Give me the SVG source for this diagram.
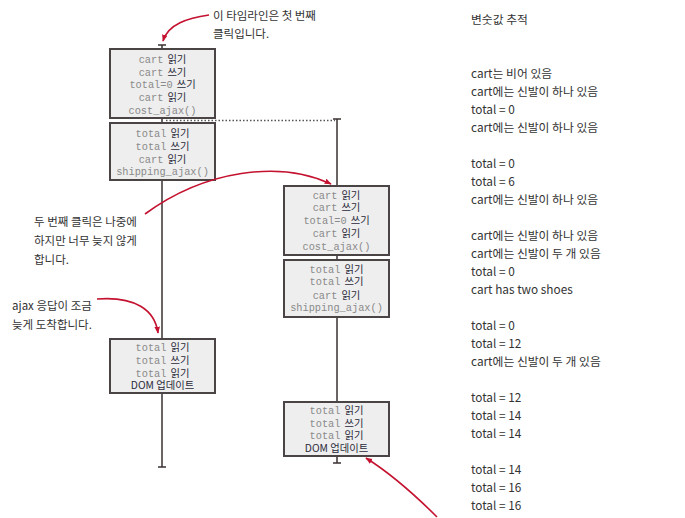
<svg xmlns="http://www.w3.org/2000/svg" width="685" height="518" viewBox="0 0 685 518">
<defs>
<marker id="ah" viewBox="0 0 10 10" refX="9" refY="5" markerWidth="7" markerHeight="7" orient="auto-start-reverse" markerUnits="userSpaceOnUse">
<path d="M0,1 L10,5 L0,9 Z" fill="#c41230"/>
</marker>
<style>
.box{fill:#eeeeee;stroke:#4a4444;stroke-width:2}
.tl{stroke:#3a3030;stroke-width:1.5;fill:none}
.code{font-family:"Liberation Mono","DejaVu Sans Mono",monospace;font-size:10.3px;fill:#8a8a8a}
.ko{font-family:"Noto Sans CJK KR","Noto Sans",sans-serif;font-size:10.3px;fill:#2a2a3a}
.bt{text-anchor:middle}
.note{font-family:"Noto Sans CJK KR","Noto Sans",sans-serif;font-size:11.5px;fill:#333}
.arr{stroke:#c41230;stroke-width:1.6;fill:none;marker-end:url(#ah)}
.trace{font-family:"Noto Sans CJK KR","Noto Sans",sans-serif;font-size:11.8px;fill:#333}
</style>
</defs>
<rect width="685" height="518" fill="#ffffff"/>
<g id="timelines">
<line class="tl" x1="162" y1="45" x2="162" y2="467"/>
<line class="tl" x1="158" y1="45" x2="166" y2="45"/>
<line class="tl" x1="158" y1="467" x2="166" y2="467"/>
<line x1="166" y1="120.5" x2="335" y2="120.5" stroke="#555" stroke-width="1.5" stroke-dasharray="1.5,2"/>
<line class="tl" x1="337" y1="119" x2="337" y2="463"/>
<line class="tl" x1="333" y1="119" x2="341" y2="119"/>
<line class="tl" x1="333" y1="463" x2="341" y2="463"/>
</g>
<g id="box1">
<rect class="box" x="110" y="49" width="105" height="69"/>
<text class="bt" x="162.5" y="63"><tspan class="code">cart</tspan><tspan class="ko" dx="4">읽기</tspan></text>
<text class="bt" x="162.5" y="76"><tspan class="code">cart</tspan><tspan class="ko" dx="4">쓰기</tspan></text>
<text class="bt" x="162.5" y="88"><tspan class="code">total=0</tspan><tspan class="ko" dx="4">쓰기</tspan></text>
<text class="bt" x="162.5" y="101"><tspan class="code">cart</tspan><tspan class="ko" dx="4">읽기</tspan></text>
<text class="bt code" x="162.5" y="114">cost_ajax()</text>
</g>
<g id="box2">
<rect class="box" x="110" y="123" width="105" height="57"/>
<text class="bt" x="162.5" y="137"><tspan class="code">total</tspan><tspan class="ko" dx="4">읽기</tspan></text>
<text class="bt" x="162.5" y="150"><tspan class="code">total</tspan><tspan class="ko" dx="4">쓰기</tspan></text>
<text class="bt" x="162.5" y="163"><tspan class="code">cart</tspan><tspan class="ko" dx="4">읽기</tspan></text>
<text class="bt code" x="162.5" y="175">shipping_ajax()</text>
</g>
<g id="box3">
<rect class="box" x="110" y="339" width="105" height="54"/>
<text class="bt" x="162.5" y="351"><tspan class="code">total</tspan><tspan class="ko" dx="4">읽기</tspan></text>
<text class="bt" x="162.5" y="364"><tspan class="code">total</tspan><tspan class="ko" dx="4">쓰기</tspan></text>
<text class="bt" x="162.5" y="377"><tspan class="code">total</tspan><tspan class="ko" dx="4">읽기</tspan></text>
<text class="bt ko" x="162.5" y="389" fill="#222">DOM 업데이트</text>
</g>
<g id="box4">
<rect class="box" x="284" y="186" width="105" height="69"/>
<text class="bt" x="336.5" y="199"><tspan class="code">cart</tspan><tspan class="ko" dx="4">읽기</tspan></text>
<text class="bt" x="336.5" y="211"><tspan class="code">cart</tspan><tspan class="ko" dx="4">쓰기</tspan></text>
<text class="bt" x="336.5" y="224"><tspan class="code">total=0</tspan><tspan class="ko" dx="4">쓰기</tspan></text>
<text class="bt" x="336.5" y="237"><tspan class="code">cart</tspan><tspan class="ko" dx="4">읽기</tspan></text>
<text class="bt code" x="336.5" y="250">cost_ajax()</text>
</g>
<g id="box5">
<rect class="box" x="284" y="260" width="105" height="57"/>
<text class="bt" x="336.5" y="273"><tspan class="code">total</tspan><tspan class="ko" dx="4">읽기</tspan></text>
<text class="bt" x="336.5" y="285"><tspan class="code">total</tspan><tspan class="ko" dx="4">쓰기</tspan></text>
<text class="bt" x="336.5" y="299"><tspan class="code">cart</tspan><tspan class="ko" dx="4">읽기</tspan></text>
<text class="bt code" x="336.5" y="311">shipping_ajax()</text>
</g>
<g id="box6">
<rect class="box" x="284" y="402" width="105" height="54"/>
<text class="bt" x="336.5" y="414"><tspan class="code">total</tspan><tspan class="ko" dx="4">읽기</tspan></text>
<text class="bt" x="336.5" y="427"><tspan class="code">total</tspan><tspan class="ko" dx="4">쓰기</tspan></text>
<text class="bt" x="336.5" y="439"><tspan class="code">total</tspan><tspan class="ko" dx="4">읽기</tspan></text>
<text class="bt ko" x="336.5" y="452" fill="#222">DOM 업데이트</text>
</g>
<g id="connectors">
<path class="arr" d="M209,15 C188,18 168,24 163,41"/>
<path class="arr" d="M145,214 C205,170 280,160 331,184"/>
<path class="arr" d="M97,299 C135,296 155,310 158,333"/>
<path class="arr" d="M437,517 C410,490 385,470 366,458"/>
</g>
<g id="notes">
<text class="note" x="213" y="20">이 타임라인은 첫 번째</text>
<text class="note" x="213" y="38">클릭입니다.</text>
<text class="note" x="34" y="226">두 번째 클릭은 나중에</text>
<text class="note" x="34" y="245">하지만 너무 늦지 않게</text>
<text class="note" x="34" y="264">합니다.</text>
<text class="note" x="12" y="310">ajax 응답이 조금</text>
<text class="note" x="12" y="329">늦게 도착합니다.</text>
</g>
<g id="trace">
<text class="trace" x="471" y="24" font-size="12">변숫값 추적</text>
<text class="trace" x="471" y="78">cart는 비어 있음</text>
<text class="trace" x="471" y="96">cart에는 신발이 하나 있음</text>
<text class="trace" x="471" y="114">total = 0</text>
<text class="trace" x="471" y="132">cart에는 신발이 하나 있음</text>
<text class="trace" x="471" y="168">total = 0</text>
<text class="trace" x="471" y="186">total = 6</text>
<text class="trace" x="471" y="204">cart에는 신발이 하나 있음</text>
<text class="trace" x="471" y="240">cart에는 신발이 하나 있음</text>
<text class="trace" x="471" y="258">cart에는 신발이 두 개 있음</text>
<text class="trace" x="471" y="276">total = 0</text>
<text class="trace" x="471" y="294">cart has two shoes</text>
<text class="trace" x="471" y="330">total = 0</text>
<text class="trace" x="471" y="348">total = 12</text>
<text class="trace" x="471" y="366">cart에는 신발이 두 개 있음</text>
<text class="trace" x="471" y="402">total = 12</text>
<text class="trace" x="471" y="420">total = 14</text>
<text class="trace" x="471" y="438">total = 14</text>
<text class="trace" x="471" y="474">total = 14</text>
<text class="trace" x="471" y="492">total = 16</text>
<text class="trace" x="471" y="510">total = 16</text>
</g>
</svg>
